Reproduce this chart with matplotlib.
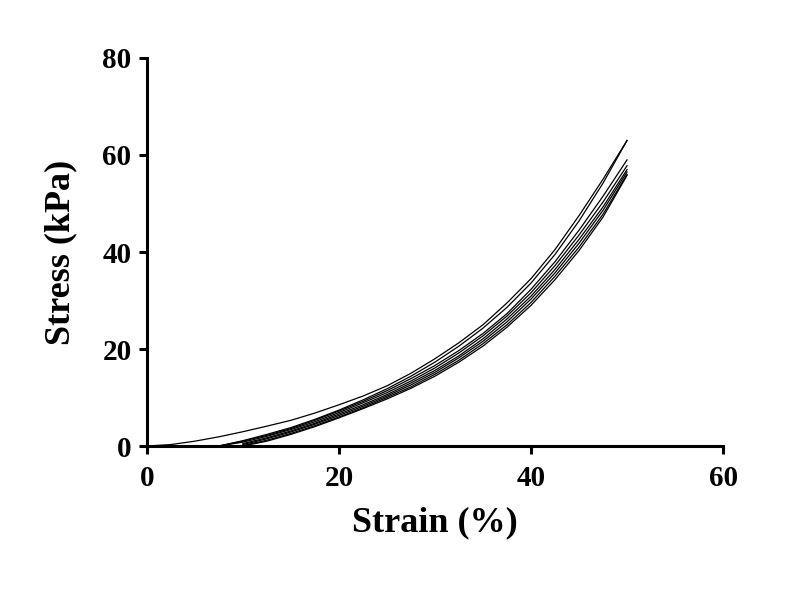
import numpy as np
import matplotlib.pyplot as plt

plt.rcParams['font.family'] = ['Liberation Serif', 'DejaVu Serif']
plt.rcParams['font.weight'] = 'bold'

# first loading curve (starts at zero strain)
strain_first = [0, 2.5, 5, 7.5, 10, 12.5, 15, 17.5, 20, 22.5, 25, 27.5, 30,
                32.5, 35, 37.5, 40, 42.5, 45, 47.5, 50]
stress_first = [0, 0.3, 1.0, 1.9, 2.95, 4.1, 5.3, 6.8, 8.5, 10.3, 12.4, 15.0,
                 18.0, 21.3, 25.0, 29.5, 34.5, 40.5, 47.5, 55.0, 63.0]

# later cycles (loading / unloading), all start around 8-10 % strain
strain_cycle = [7.5, 10, 12.5, 15, 17.5, 20, 22.5, 25, 27.5, 30, 32.5, 35,
                37.5, 40, 42.5, 45, 47.5, 50]
unload_1 = [0, 1.1, 2.4, 3.8, 5.5, 7.4, 9.5, 11.8, 14.4, 17.3, 20.6, 24.3,
            28.6, 33.6, 39.5, 46.4, 54.2, 63.0]
cycle_2 = [0, 1.0, 2.2, 3.6, 5.3, 7.2, 9.2, 11.4, 13.9, 16.6, 19.7, 23.2,
           27.3, 32.3, 38.0, 44.5, 51.5, 59.0]
cycle_3 = [0, 0.8, 2.0, 3.4, 5.0, 6.9, 8.9, 11.0, 13.4, 16.1, 19.2, 22.7,
           26.8, 31.6, 37.2, 43.5, 50.3, 57.8]
cycle_4 = [np.nan, 0.5, 1.7, 3.1, 4.7, 6.6, 8.5, 10.6, 13.0, 15.6, 18.6, 22.1,
           26.2, 30.9, 36.4, 42.6, 49.3, 57.0]
cycle_5 = [np.nan, 0.3, 1.5, 2.9, 4.5, 6.3, 8.2, 10.3, 12.6, 15.2, 18.2, 21.6,
           25.6, 30.3, 35.7, 41.8, 48.6, 56.5]
cycle_6 = [np.nan, 0.1, 1.2, 2.6, 4.2, 6.0, 7.9, 10.0, 12.2, 14.8, 17.7, 21.1,
           25.0, 29.6, 35.0, 41.0, 47.8, 56.0]
cycle_7 = [np.nan, 0.0, 1.0, 2.4, 4.0, 5.8, 7.7, 9.7, 11.9, 14.4, 17.3, 20.6,
           24.5, 29.0, 34.3, 40.3, 47.2, 55.8]
cycles = [unload_1, cycle_2, cycle_3, cycle_4, cycle_5, cycle_6, cycle_7]

fig = plt.figure(figsize=(8.07, 6.13), dpi=100)
ax = fig.add_axes([0.182, 0.2724, 0.714, 0.633])

ax.plot(strain_first, stress_first, color='black', lw=0.9)
for c in cycles:
    ax.plot(strain_cycle, c, color='black', lw=0.9)

ax.set_xlim(0, 60)
ax.set_ylim(0, 80)
ax.set_xticks([0, 20, 40, 60])
ax.set_yticks([0, 20, 40, 60, 80])

for s in ['top', 'right']:
    ax.spines[s].set_visible(False)
for s in ['left', 'bottom']:
    ax.spines[s].set_linewidth(2.2)
ax.tick_params(width=2.2, length=6, labelsize=21)
ax.tick_params(axis='x', pad=8)
ax.tick_params(axis='y', pad=5)
for lab in ax.get_xticklabels() + ax.get_yticklabels():
    lab.set_fontweight('bold')

ax.set_xlabel('Strain (%)', fontsize=26, fontweight='bold', labelpad=10)
ax.set_ylabel('Stress (kPa)', fontsize=26, fontweight='bold', labelpad=18)

fig.savefig('out.png', dpi=100)
